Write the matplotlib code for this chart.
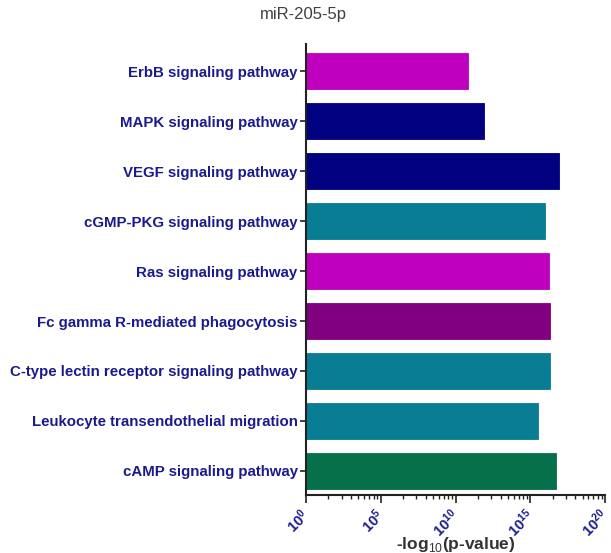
import matplotlib
matplotlib.use("Agg")
import matplotlib.pyplot as plt
import matplotlib.transforms as mtransforms
from matplotlib.ticker import FixedLocator, NullFormatter

plt.rcParams['font.family'] = ['Liberation Sans', 'DejaVu Sans']
plt.rcParams['mathtext.fontset'] = 'custom'
plt.rcParams['mathtext.rm'] = 'Liberation Sans'
plt.rcParams['mathtext.bf'] = 'Liberation Sans:bold'

pathways = [
    "ErbB signaling pathway",
    "MAPK signaling pathway",
    "VEGF signaling pathway",
    "cGMP-PKG signaling pathway",
    "Ras signaling pathway",
    "Fc gamma R-mediated phagocytosis",
    "C-type lectin receptor signaling pathway",
    "Leukocyte transendothelial migration",
    "cAMP signaling pathway",
]
# exponent of the bar value (value = 10**exponent)
exponents = [10.86, 11.93, 16.9, 16.0, 16.27, 16.34, 16.34, 15.5, 16.72]
bar_colors = ["#BF00BF", "#000080", "#000080", "#087D94", "#BF00BF",
              "#800080", "#087D94", "#087D94", "#06704A"]
x_ticks = [0, 5, 10, 15, 20]

values = [10 ** e for e in exponents]

fig = plt.figure(figsize=(6.11, 5.53), dpi=100)
ax = fig.add_axes([0.5008, 0.1049, 0.4894, 0.8155])

ypos = list(range(len(pathways)))
ax.barh(ypos, values, left=1, height=0.72, color=bar_colors,
        edgecolor=bar_colors, linewidth=0.6)

ax.set_xscale("log")
ax.set_xlim(1, 1e20)
ax.set_ylim(8.48, -0.54)

ax.xaxis.set_major_locator(FixedLocator([10.0 ** t for t in x_ticks]))
ax.xaxis.set_major_formatter(NullFormatter())
minor = [10.0 ** (5 * k) * m ** 5 for k in range(4) for m in range(2, 10)]
ax.xaxis.set_minor_locator(FixedLocator(minor))
ax.xaxis.set_minor_formatter(NullFormatter())

# rotated x tick labels, nudged a little left so the last one fits
shift = mtransforms.ScaledTranslation(-6 / 100, -11 / 100, fig.dpi_scale_trans)
for t in x_ticks:
    ax.text(10.0 ** t, 0, r"$\mathbf{10^{%d}}$" % t,
            transform=ax.get_xaxis_transform() + shift,
            rotation=45, ha="right", va="top", rotation_mode="anchor",
            color="#1a1a8c", fontsize=10.5, clip_on=False)

ax.set_yticks(ypos)
ax.set_yticklabels(pathways, color="#1a1a8c", fontsize=10.8, fontweight="bold")

for side in ["top", "right"]:
    ax.spines[side].set_visible(False)
for side in ["left", "bottom"]:
    ax.spines[side].set_linewidth(1.5)
    ax.spines[side].set_color("#222222")

ax.tick_params(axis="y", length=4, width=1.2, color="#222222", pad=2)
ax.tick_params(axis="x", which="major", length=6, width=1.2, color="#222222", pad=4)
ax.tick_params(axis="x", which="minor", length=3, width=1.0, color="#222222")

ax.set_xlabel(r"-log$_{10}$(p-value)", fontsize=12.5, fontweight="bold",
              color="#333333", va="center")
ax.xaxis.set_label_coords(0.5, -50 / 451)

fig.text(303 / 611, 1 - 15 / 553, "miR-205-5p", ha="center", va="center",
         fontsize=12, color="#404040")

fig.savefig("out.png", dpi=100, facecolor="white")
